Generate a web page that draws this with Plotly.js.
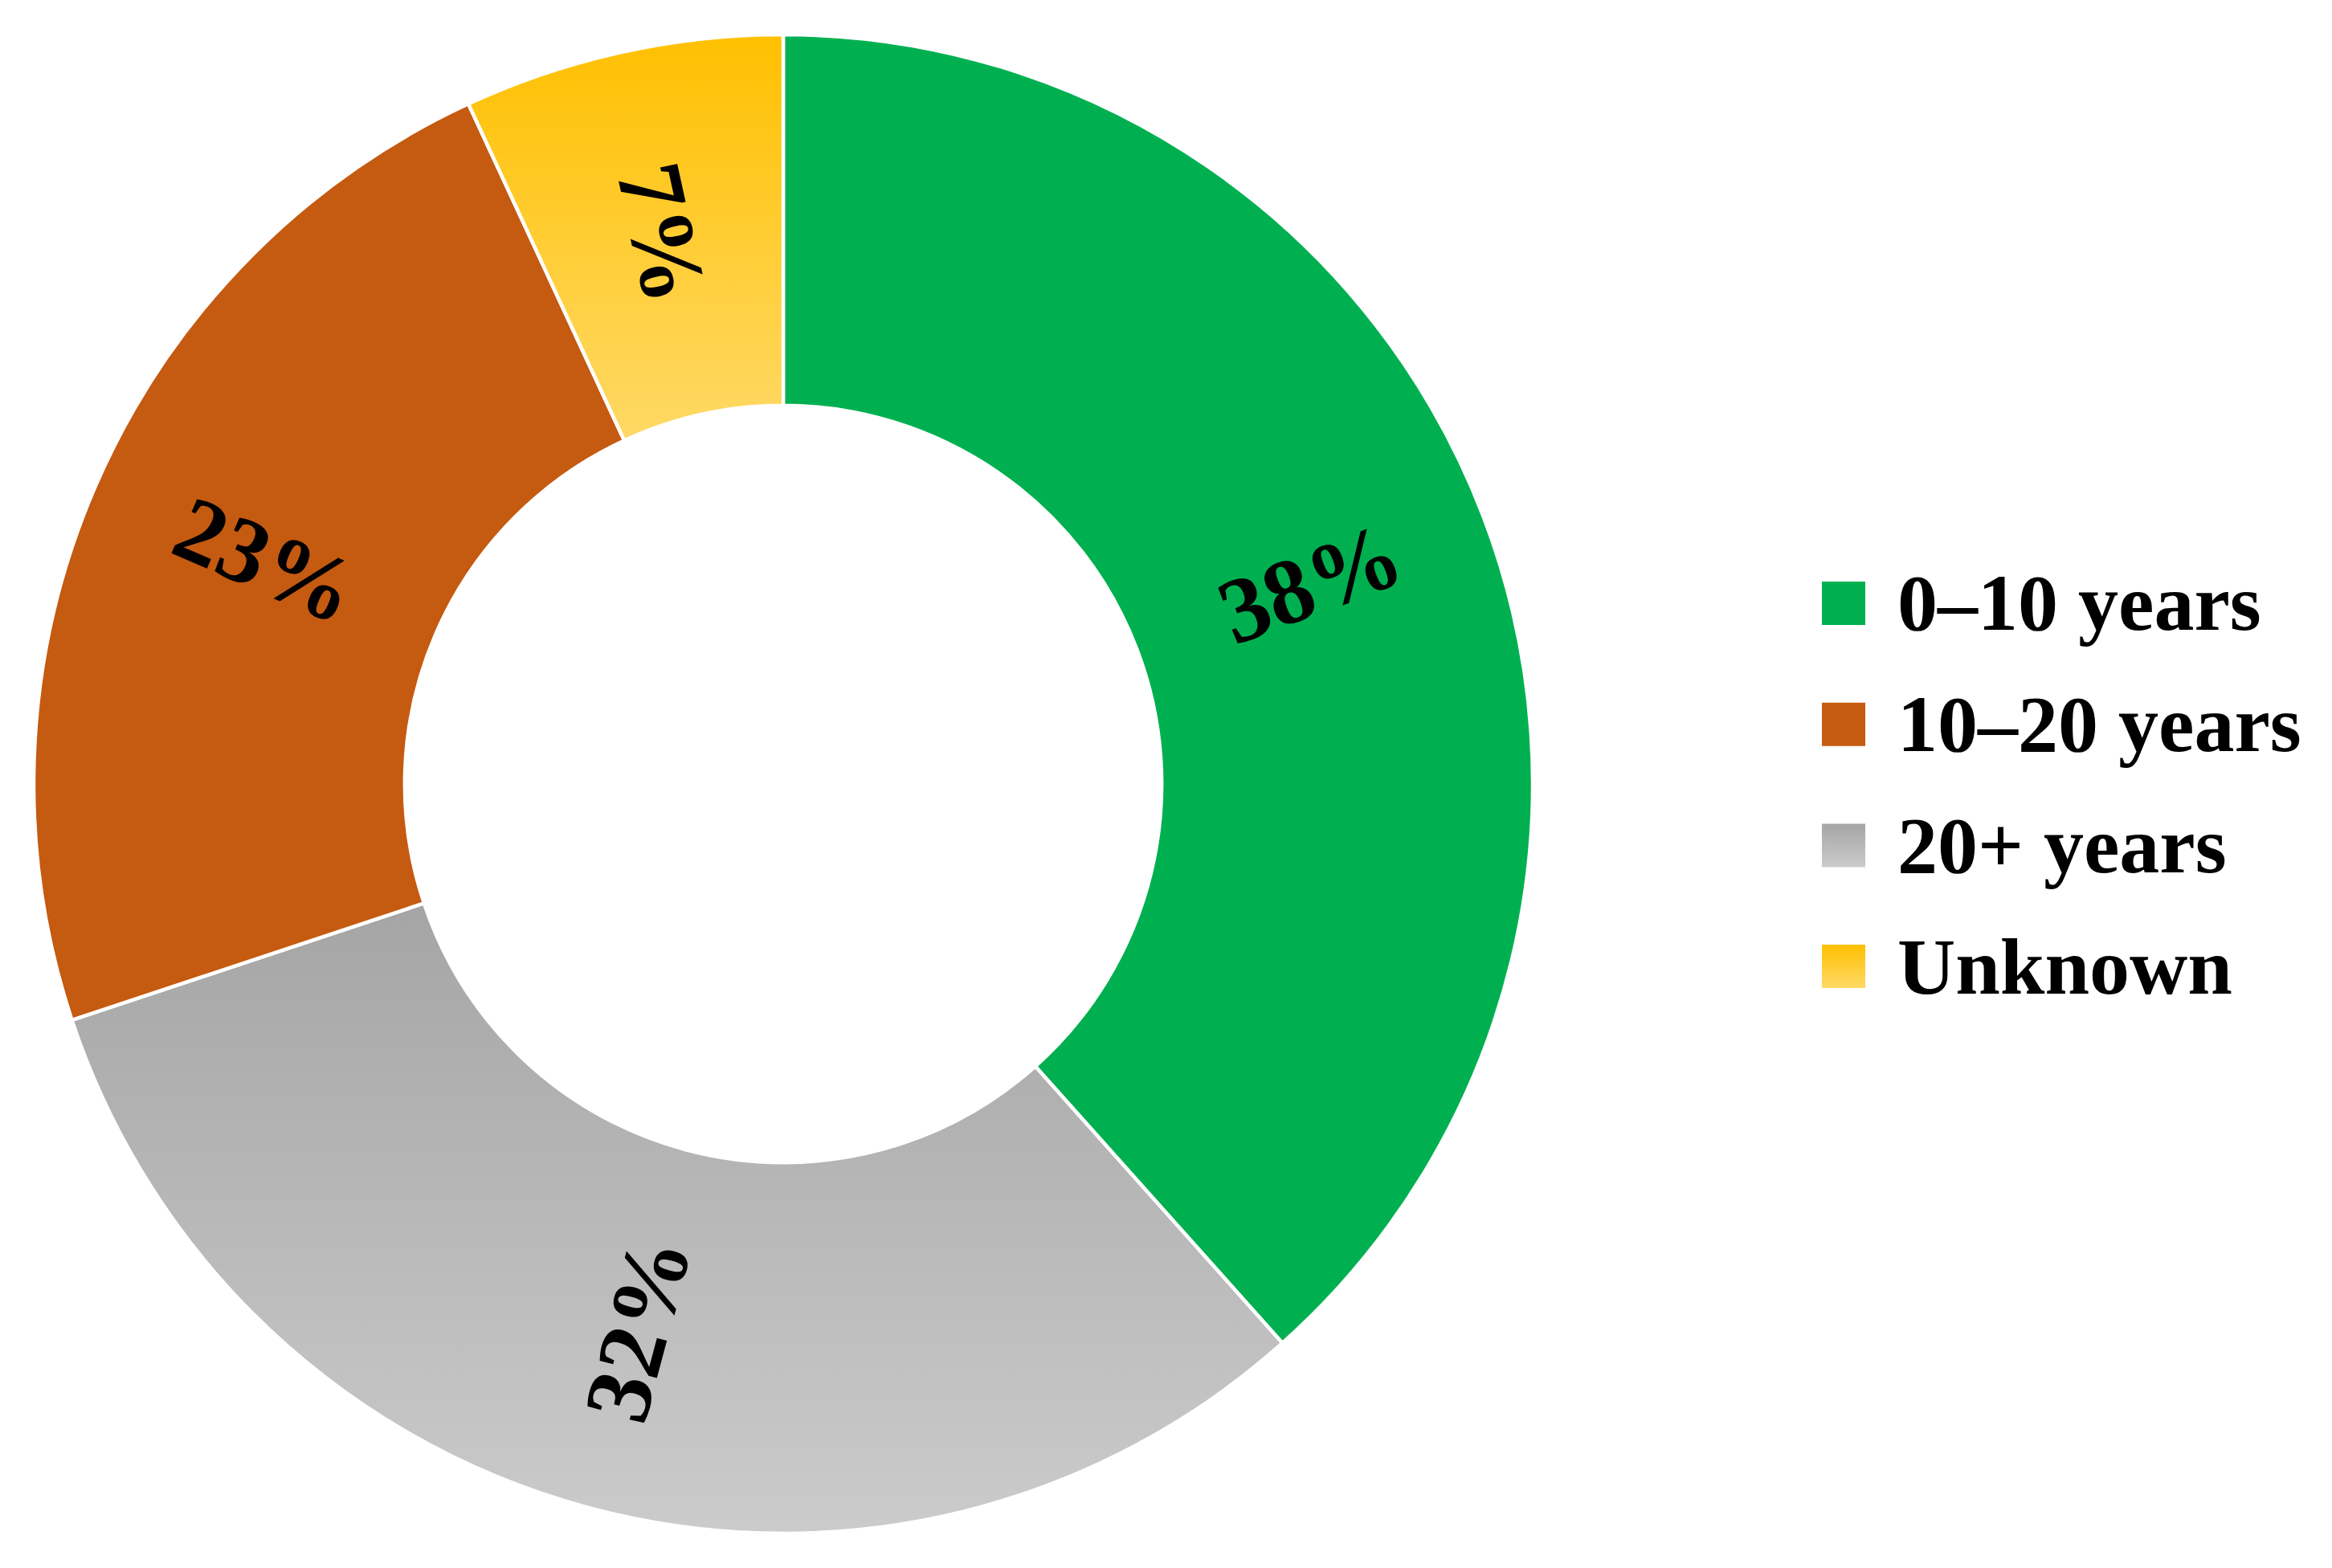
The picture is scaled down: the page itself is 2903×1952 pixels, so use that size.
<!DOCTYPE html>
<html>
<head>
<meta charset="utf-8">
<script src="https://cdn.plot.ly/plotly-3.0.1.min.js"></script>
<style>
  html, body { margin: 0; padding: 0; background: #ffffff; }
  #chart { width: 2903px; height: 1952px; }
</style>
</head>
<body>
<div id="chart"></div>
<script>
// ---- data (legend order) ----
const categories = ['0–10 years', '10–20 years', '20+ years', 'Unknown'];
const shares = [38.4, 23.2, 31.5, 6.9];   // percent, labels show rounded values
// order in which the slices run clockwise from 12 o'clock
const sliceOrder = [0, 2, 1, 3];

// ---- styles ----
const colorTop    = ['#00b050', '#c55a11', '#a5a5a5', '#ffc000'];
const colorBottom = ['#00b050', '#c55a11', '#cbcbcb', '#ffd966'];
const FONT = 'Times New Roman, Liberation Serif, serif';

const W = 2903, H = 1952;
const cx = 975, cy = 976, R = 933, HOLE = 0.505;

const pieLabels = sliceOrder.map(i => categories[i]);
const pieValues = sliceOrder.map(i => shares[i]);
const pieColors = sliceOrder.map(i => colorTop[i]);

const pie = {
  type: 'pie',
  labels: pieLabels,
  values: pieValues,
  sort: false,
  direction: 'clockwise',
  rotation: 0,
  hole: HOLE,
  domain: { x: [(cx - R) / W, (cx + R) / W], y: [(H - cy - R) / H, (H - cy + R) / H] },
  marker: { colors: pieColors, line: { color: '#ffffff', width: 4.5 } },
  textinfo: 'none',
  showlegend: false,
  hoverinfo: 'label+percent'
};

const shapes = [], annotations = [];

// ---- slice labels, placed radially at the middle of the ring ----
const total = pieValues.reduce((a, b) => a + b, 0);
let cum = 0;
const rMid = R * (1 + HOLE) / 2;
pieValues.forEach((v, k) => {
  const midDeg = (cum + v / 2) / total * 360;   // clockwise from 12 o'clock
  cum += v;
  const t = midDeg * Math.PI / 180;
  const px = cx + rMid * Math.sin(t);
  const py = cy - rMid * Math.cos(t);
  const ang = ((midDeg + 720) % 180) - 90;
  annotations.push({
    xref: 'paper', yref: 'paper', x: px / W, y: 1 - py / H,
    xanchor: 'center', yanchor: 'middle', showarrow: false,
    textangle: ang,
    text: Math.round(v) + '%',
    font: { family: FONT, size: 116, color: '#000000', weight: 'bold' }
  });
});

// ---- legend drawn as shapes + annotations ----
const legX0 = 2268, legSq = 54, legTextX = 2360, legY0 = 751, legDy = 150.7;
categories.forEach((c, i) => {
  const yc = legY0 + i * legDy;
  shapes.push({
    type: 'rect', xref: 'paper', yref: 'paper',
    x0: legX0 / W, x1: (legX0 + legSq) / W,
    y0: 1 - (yc + legSq / 2) / H, y1: 1 - (yc - legSq / 2) / H,
    fillcolor: colorTop[i], line: { width: 0 }
  });
  annotations.push({
    xref: 'paper', yref: 'paper', x: legTextX / W, y: 1 - yc / H,
    xanchor: 'left', yanchor: 'middle', showarrow: false,
    text: c, font: { family: FONT, size: 100, color: '#000000', weight: 'bold' }
  });
});

const layout = {
  width: W, height: H,
  margin: { l: 0, r: 0, t: 0, b: 0 },
  paper_bgcolor: '#ffffff',
  plot_bgcolor: '#ffffff',
  showlegend: false,
  shapes: shapes,
  annotations: annotations
};

Plotly.newPlot('chart', [pie], layout, { staticPlot: true }).then(gd => {
  // vertical gradients like the original fills
  const svgNS = 'http://www.w3.org/2000/svg';
  const defs = gd.querySelector('svg.main-svg defs');
  const gradId = i => 'grad' + i;
  categories.forEach((c, i) => {
    if (colorTop[i] === colorBottom[i]) return;
    const lg = document.createElementNS(svgNS, 'linearGradient');
    lg.setAttribute('id', gradId(i));
    lg.setAttribute('x1', '0'); lg.setAttribute('y1', '0');
    lg.setAttribute('x2', '0'); lg.setAttribute('y2', '1');
    [[0, colorTop[i]], [1, colorBottom[i]]].forEach(([o, col]) => {
      const st = document.createElementNS(svgNS, 'stop');
      st.setAttribute('offset', o);
      st.setAttribute('stop-color', col);
      lg.appendChild(st);
    });
    defs.appendChild(lg);
  });
  const slicePaths = gd.querySelectorAll('.slice path.surface');
  slicePaths.forEach((p, k) => {
    const i = sliceOrder[k];
    if (colorTop[i] !== colorBottom[i]) p.style.fill = 'url(#' + gradId(i) + ')';
  });
  const shapePaths = gd.querySelectorAll('.layer-above .shapelayer path');
  shapePaths.forEach((p, i) => {
    if (i < categories.length && colorTop[i] !== colorBottom[i]) p.style.fill = 'url(#' + gradId(i) + ')';
  });
});
</script>
</body>
</html>
